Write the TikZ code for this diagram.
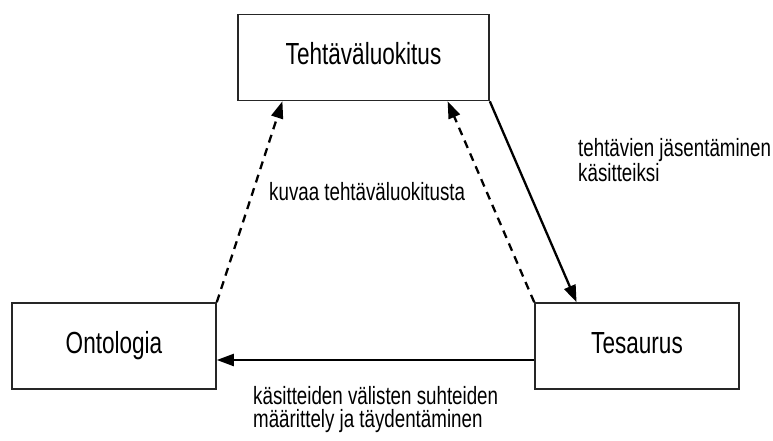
\documentclass[tikz,border=0pt]{standalone}
\usepackage{fontspec}
\setmainfont{Liberation Sans}
\newfontfamily\boxfont{Liberation Sans}[FakeStretch=0.74]
\newfontfamily\labfont{Liberation Sans}[FakeStretch=0.75]
\usetikzlibrary{arrows.meta,calc}
\begin{document}
\begin{tikzpicture}[x=1pt,y=-1pt,
  conbox/.style={draw=black!85,line width=1.6pt,fill=white,minimum height=86pt,
    font=\boxfont\fontsize{30.5}{32}\selectfont,text height=22pt,text depth=8pt,inner sep=0pt},
  arr/.style={line width=2.3pt,-{Triangle[length=17pt,width=12pt]}},
  darr/.style={arr,dash pattern=on 8pt off 6pt},
  lab/.style={font=\labfont\fontsize{25}{25}\selectfont,align=left,inner sep=0pt,anchor=west}]
\useasboundingbox (0,0) rectangle (773,441);
\node[conbox,minimum width=251pt] (top) at (363.5,57.5) {Tehtäväluokitus};
\node[conbox,minimum width=204pt] (ont) at (114,346) {Ontologia};
\node[conbox,minimum width=204pt] (tes) at (637,346) {Tesaurus};
\coordinate (tl) at ($(top.south west)!0.179!(top.south east)$);
\coordinate (tr) at ($(top.south west)!0.833!(top.south east)$);
\coordinate (tt) at ($(tes.north west)!0.206!(tes.north east)$);
\draw[darr] (ont.north east) -- (tl);
\draw[darr] (tes.north west) -- (tr);
\draw[arr] (top.south east) -- (tt);
\draw[arr] ([yshift=-14pt]tes.west) -- ([yshift=-14pt]ont.east);
\node[lab] (l1) at (269,192) {kuvaa tehtäväluokitusta};
\node[lab] (l2) at (578,160.5) {tehtävien jäsentäminen\\käsitteiksi};
\node[lab] (l3) at (253,410) {käsitteiden välisten suhteiden\\[-2pt]määrittely ja täydentäminen};
\end{tikzpicture}
\end{document}
